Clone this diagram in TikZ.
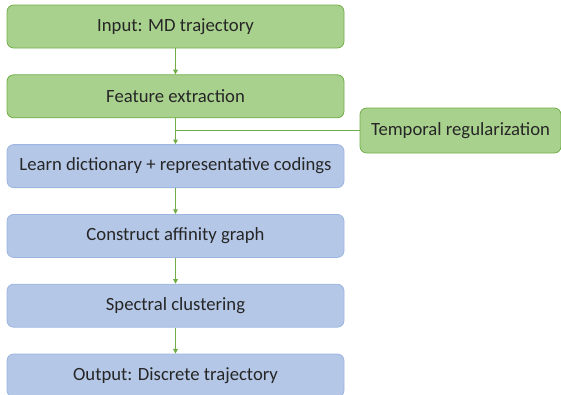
\documentclass[tikz,border=0pt]{standalone}
\usepackage{fontspec}
\setmainfont{Carlito}
\usetikzlibrary{positioning, arrows.meta}
\definecolor{boxgreen}{HTML}{A9D18E}
\definecolor{edgegreen}{HTML}{70AD47}
\definecolor{boxblue}{HTML}{B4C7E7}
\definecolor{edgeblue}{HTML}{9DB5E0}
\definecolor{txtgray}{HTML}{262626}
\tikzstyle{greenbox} = [rectangle, rounded corners=5pt, minimum width=252.75pt, minimum
height=32.25pt, text centered, draw=edgegreen, fill=boxgreen, text=txtgray, font=\fontsize{14}{16}\selectfont, line width=0.6pt]
\tikzstyle{bluebox} = [greenbox, draw=edgeblue, fill=boxblue]
\tikzstyle{arrow} = [draw=edgegreen, line width=0.75pt, -{Triangle[width=3.5pt,length=3.5pt]}]
\tikzstyle{line} = [draw=edgegreen, line width=0.75pt, -]

\begin{document}
\begin{tikzpicture}[x=0.75pt, y=-0.75pt, node distance=19.5pt]
        \useasboundingbox (0,0) rectangle (561,394);
        \node (IN) [greenbox] at (175.5,26.5) {Input: MD trajectory};
        \node (FE) [greenbox, below=of IN] {Feature extraction};
        \node (LD) [bluebox, below=of FE] {Learn dictionary + representative codings};
        \node (AG) [bluebox, below=of LD] {Construct affinity graph};
        \node (SC) [bluebox, below=of AG] {Spectral clustering};
        \node (OUT) [bluebox, below=of SC] {Output: Discrete trajectory};

        \node (TR) [greenbox, minimum width=150.75pt, minimum height=33.75pt] at (460.5,130.5) {Temporal regularization};

        \coordinate (J) at (TR.west -| FE.south); % joins the main line
        \draw [line] (TR.west) -- (J);

        \draw [arrow] (IN) -- (FE);
        \draw [arrow] (FE) -- (LD);
        \draw [arrow] (LD) -- (AG);
        \draw [arrow] (AG) -- (SC);
        \draw [arrow] (SC) -- (OUT);
    \end{tikzpicture}
\end{document}
